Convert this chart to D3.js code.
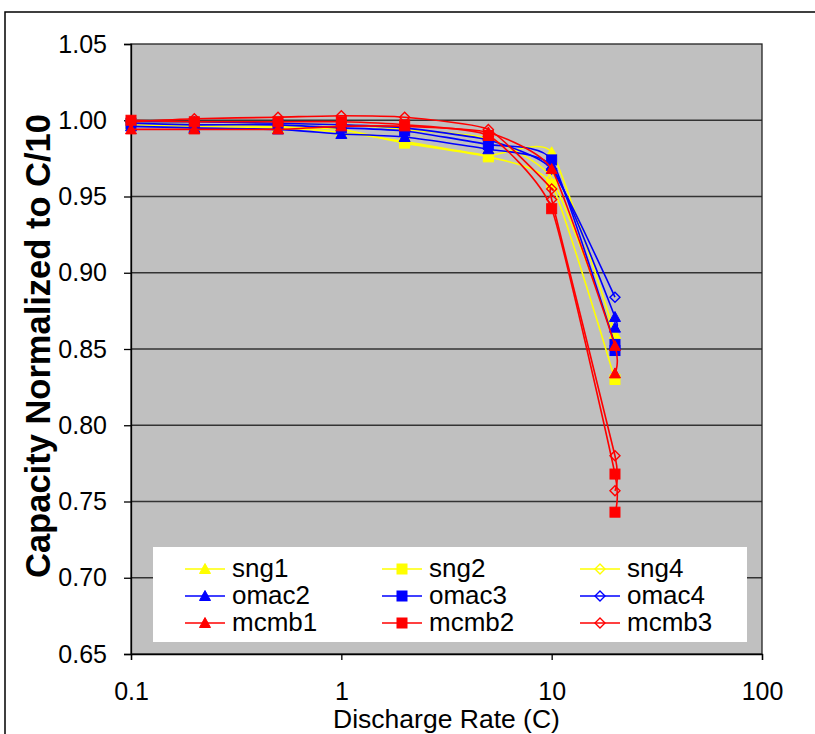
<!DOCTYPE html>
<html>
<head>
<meta charset="utf-8">
<script src="https://cdn.jsdelivr.net/npm/d3@7"></script>
<style>
  body { margin: 0; background: #fff; }
  text { font-family: "Liberation Sans", Arial, sans-serif; }
</style>
</head>
<body>
<div id="chart"></div>
<script>
// discharge rates (C); some cells were measured twice at the same rate
var ratesA = [0.1, 0.2, 0.5, 1, 2, 5, 10, 20];
var ratesB = [0.1, 0.2, 0.5, 1, 2, 5, 10, 20, 20];
var ratesC = [0.1, 0.2, 0.5, 1, 2, 5, 10, 10, 20, 20];

var sng1  = [0.997, 0.996, 0.995, 0.992, 0.986, 0.977, 0.979, 0.860];
var sng2  = [0.998, 0.997, 0.996, 0.994, 0.985, 0.976, 0.958, 0.830];
var sng4  = [0.999, 0.999, 0.998, 0.997, 0.994, 0.988, 0.962, 0.857];
var omac2 = [0.996, 0.995, 0.994, 0.991, 0.989, 0.981, 0.970, 0.871, 0.864];
var omac3 = [0.998, 0.997, 0.997, 0.995, 0.993, 0.984, 0.974, 0.853, 0.849];
var omac4 = [0.999, 0.999, 0.998, 0.997, 0.995, 0.987, 0.968, 0.884];
var mcmb1 = [0.994, 0.994, 0.994, 0.996, 0.996, 0.992, 0.968, 0.852, 0.834];
var mcmb2 = [1.000, 0.999, 0.999, 0.999, 0.997, 0.990, 0.942, 0.768, 0.743];
var mcmb3 = [0.999, 1.001, 1.002, 1.003, 1.002, 0.994, 0.955, 0.948, 0.780, 0.757];

var names   = ['sng1', 'sng2', 'sng4', 'omac2', 'omac3', 'omac4', 'mcmb1', 'mcmb2', 'mcmb3'];
var colors  = ['#FFFF00', '#FFFF00', '#FFFF00', '#0000FF', '#0000FF', '#0000FF', '#FF0000', '#FF0000', '#FF0000'];
var symbols = ['tri', 'sq', 'dia', 'tri', 'sq', 'dia', 'tri', 'sq', 'dia'];
var xsets   = [ratesA, ratesA, ratesA, ratesB, ratesB, ratesA, ratesB, ratesB, ratesC];
var ysets   = [sng1, sng2, sng4, omac2, omac3, omac4, mcmb1, mcmb2, mcmb3];

var yTicks = [0.65, 0.70, 0.75, 0.80, 0.85, 0.90, 0.95, 1.00, 1.05];
var xTicks = [0.1, 1, 10, 100];

var W = 815, H = 734;
var plot = {left: 131, right: 762, top: 44, bottom: 654};

var svg = d3.select('#chart').append('svg')
            .attr('width', W)
            .attr('height', H);

// outer chart frame
svg.append('rect')
   .attr('x', 5).attr('y', 12)
   .attr('width', W + 20).attr('height', H + 20)
   .attr('fill', '#fff')
   .attr('stroke', '#000')
   .attr('stroke-width', 1.5);

var x = d3.scaleLog().domain([0.1, 100]).range([plot.left, plot.right]);
var y = d3.scaleLinear().domain([0.65, 1.05]).range([plot.bottom, plot.top]);

svg.append('rect')
   .attr('x', plot.left).attr('y', plot.top)
   .attr('width', plot.right - plot.left)
   .attr('height', plot.bottom - plot.top)
   .attr('fill', '#C0C0C0');

// grid
svg.append('g').selectAll('line')
   .data(yTicks.slice(1, -1)).enter()
   .append('line')
   .attr('x1', plot.left).attr('x2', plot.right)
   .attr('y1', d => y(d)).attr('y2', d => y(d))
   .attr('stroke', '#333')
   .attr('stroke-width', 1.3);

svg.append('rect')
   .attr('x', plot.left).attr('y', plot.top)
   .attr('width', plot.right - plot.left)
   .attr('height', plot.bottom - plot.top)
   .attr('fill', 'none')
   .attr('stroke', '#222')
   .attr('stroke-width', 1.3);

// axes
var yAxis = svg.append('g')
   .attr('transform', `translate(${plot.left},0)`)
   .call(d3.axisLeft(y).tickValues(yTicks).tickFormat(d3.format('.2f')).tickSize(7).tickPadding(17));
var xAxis = svg.append('g')
   .attr('transform', `translate(0,${plot.bottom})`)
   .call(d3.axisBottom(x).tickValues(xTicks).tickFormat(d => String(d)).tickSize(6).tickPadding(22));

[yAxis, xAxis].forEach(g => {
  g.select('.domain').attr('stroke', '#000').attr('stroke-width', 1.3);
  g.selectAll('.tick line').attr('stroke', '#000').attr('stroke-width', 1.3);
  g.selectAll('.tick text')
   .attr('fill', '#000')
   .style('font-family', '"Liberation Sans", Arial, sans-serif')
   .style('font-size', '25px');
});

svg.append('text')
   .attr('x', (plot.left + plot.right) / 2)
   .attr('y', 728)
   .attr('text-anchor', 'middle')
   .style('font-size', '26.5px')
   .text('Discharge Rate (C)');

svg.append('text')
   .attr('transform', `translate(50,${(plot.top + plot.bottom) / 2 - 3}) rotate(-90)`)
   .attr('text-anchor', 'middle')
   .style('font-size', '34.5px')
   .style('font-weight', 'bold')
   .text('Capacity Normalized to C/10');

var line = d3.line()
   .x(d => x(d[0]))
   .y(d => y(d[1]))
   .curve(d3.curveCardinal.tension(0.5));

function drawMarker(g, sym, color, cx, cy) {
  if (sym === 'tri') {
    g.append('path')
     .attr('d', `M${cx},${cy - 5.5}L${cx + 5.5},${cy + 4.5}L${cx - 5.5},${cy + 4.5}Z`)
     .attr('fill', color).attr('stroke', color).attr('stroke-width', 1);
  } else if (sym === 'sq') {
    g.append('rect')
     .attr('x', cx - 5).attr('y', cy - 5)
     .attr('width', 10).attr('height', 10)
     .attr('fill', color).attr('stroke', color).attr('stroke-width', 1);
  } else {
    g.append('path')
     .attr('d', `M${cx},${cy - 5}L${cx + 5},${cy}L${cx},${cy + 5}L${cx - 5},${cy}Z`)
     .attr('fill', 'none').attr('stroke', color).attr('stroke-width', 1.4);
  }
}

var seriesG = svg.append('g');
names.forEach((name, i) => {
  var pts = xsets[i].map((r, j) => [r, ysets[i][j]]);
  var g = seriesG.append('g').attr('class', 'series ' + name);
  g.append('path')
   .datum(pts)
   .attr('d', line)
   .attr('fill', 'none')
   .attr('stroke', colors[i])
   .attr('stroke-width', 1.6);
  pts.forEach(p => drawMarker(g, symbols[i], colors[i], x(p[0]), y(p[1])));
});

// legend
var legend = svg.append('g');
legend.append('rect')
   .attr('x', 153).attr('y', 547)
   .attr('width', 594).attr('height', 95)
   .attr('fill', '#fff');

var colX = [185, 382, 580];
var rowY = [569, 596, 623];
names.forEach((name, i) => {
  var cx = colX[i % 3], cy = rowY[Math.floor(i / 3)];
  legend.append('line')
     .attr('x1', cx).attr('x2', cx + 40)
     .attr('y1', cy).attr('y2', cy)
     .attr('stroke', colors[i]).attr('stroke-width', 1.6);
  drawMarker(legend, symbols[i], colors[i], cx + 20, cy);
  legend.append('text')
     .attr('x', cx + 47).attr('y', cy + 8)
     .style('font-size', '26px')
     .text(name);
});
</script>
</body>
</html>
